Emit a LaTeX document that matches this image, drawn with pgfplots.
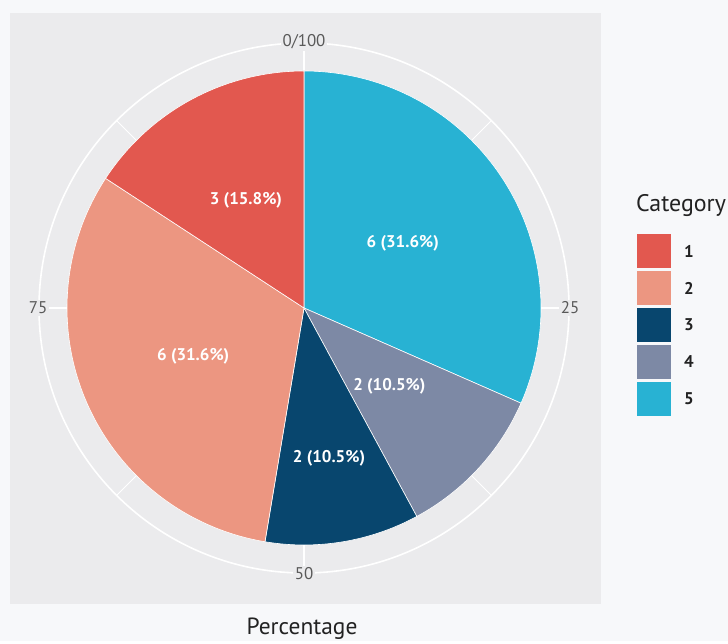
\documentclass[border=0pt]{standalone}
\usepackage{pgfplots}
\usepackage{pgfplotstable}
\pgfplotsset{compat=1.18}
\usepackage{fontspec}
\setmainfont{PT Sans}

\definecolor{pagebg}{HTML}{F7F8FA}
\definecolor{panelbg}{HTML}{EBEBED}
\definecolor{ticktext}{HTML}{595959}
\definecolor{darktext}{HTML}{222222}
\definecolor{col1}{HTML}{E2584F}
\definecolor{col2}{HTML}{EC9681}
\definecolor{col3}{HTML}{08466E}
\definecolor{col4}{HTML}{7D89A5}
\definecolor{col5}{HTML}{28B2D3}

% slices in clockwise order from the top; lr = radius of the slice label
\pgfplotstableread{
cat count lr
5 6 118
4 2 116
3 2 152
2 6 121
1 3 122
}\pietable

\begin{document}
\begin{tikzpicture}
\pgfplotstablegetrowsof{\pietable}
\pgfmathtruncatemacro\nrows{\pgfplotsretval-1}
\def\total{0}
\pgfplotsforeachungrouped \i in {0,...,\nrows}{%
  \pgfplotstablegetelem{\i}{count}\of\pietable
  \pgfmathsetmacro\total{\total+\pgfplotsretval}%
}
\def\cum{0}
\pgfplotsforeachungrouped \i in {0,...,\nrows}{%
  \pgfplotstablegetelem{\i}{count}\of\pietable \let\myv\pgfplotsretval
  \pgfplotstablegetelem{\i}{cat}\of\pietable \let\myc\pgfplotsretval
  \pgfplotstablegetelem{\i}{lr}\of\pietable \let\myr\pgfplotsretval
  \pgfmathsetmacro\sa{90-360*\cum/\total}%
  \pgfmathsetmacro\cum{\cum+\myv}%
  \pgfmathsetmacro\sb{90-360*\cum/\total}%
  \pgfmathsetmacro\sm{(\sa+\sb)/2}%
  \pgfmathsetmacro\spx{304+237*cos(\sa)}%
  \pgfmathsetmacro\spy{333+237*sin(\sa)}%
  \pgfmathsetmacro\slx{304+\myr*cos(\sm)}%
  \pgfmathsetmacro\sly{333+\myr*sin(\sm)}%
  \pgfmathsetmacro\spct{100*\myv/\total}%
  \expandafter\xdef\csname pa\i\endcsname{\sa}%
  \expandafter\xdef\csname pb\i\endcsname{\sb}%
  \expandafter\xdef\csname px\i\endcsname{\spx}%
  \expandafter\xdef\csname py\i\endcsname{\spy}%
  \expandafter\xdef\csname lx\i\endcsname{\slx}%
  \expandafter\xdef\csname ly\i\endcsname{\sly}%
  \expandafter\xdef\csname pp\i\endcsname{\spct}%
  \expandafter\xdef\csname pv\i\endcsname{\myv}%
  \expandafter\xdef\csname pc\i\endcsname{col\myc}%
}
\begin{axis}[
  at={(0,0)}, anchor=origin,
  x=1bp, y=1bp,
  xmin=0, xmax=728, ymin=0, ymax=641,
  hide axis, clip=false,
  ]
  % background and panel
  \fill[pagebg] (axis cs:0,0) rectangle (axis cs:728,641);
  \fill[panelbg] (axis cs:10,37) rectangle (axis cs:601,628);
  % grid
  \draw[white, line width=0.8bp] (axis cs:304,333) -- (axis cs:491.4,520.4);
  \draw[white, line width=0.8bp] (axis cs:304,333) -- (axis cs:491.4,145.6);
  \draw[white, line width=0.8bp] (axis cs:304,333) -- (axis cs:116.6,145.6);
  \draw[white, line width=0.8bp] (axis cs:304,333) -- (axis cs:116.6,520.4);
  \draw[white, line width=1.6bp] (axis cs:304,333) -- (axis cs:304,598);
  \draw[white, line width=1.6bp] (axis cs:304,333) -- (axis cs:569,333);
  \draw[white, line width=1.6bp] (axis cs:304,333) -- (axis cs:304,68);
  \draw[white, line width=1.6bp] (axis cs:304,333) -- (axis cs:39,333);
  \draw[white, line width=1.6bp] (axis cs:304,333) circle[radius=265bp];
  % theta labels
  \begin{scope}[every node/.style={fill=panelbg, inner sep=1.5bp, text=ticktext,
      font=\fontsize{17}{20}\selectfont}]
    \node at (axis cs:304,599) {0/100};
    \node at (axis cs:570,333) {25};
    \node at (axis cs:304,67) {50};
    \node at (axis cs:38,333) {75};
  \end{scope}
  % slices
  \pgfplotsinvokeforeach{0,...,4}{
    \path[fill=\csname pc#1\endcsname, draw=white, line width=0.6bp]
      (axis cs:304,333) -- (axis cs:\csname px#1\endcsname,\csname py#1\endcsname)
      arc[start angle=\csname pa#1\endcsname, end angle=\csname pb#1\endcsname, radius=237bp]
      -- cycle;
  }
  \pgfplotsinvokeforeach{0,...,4}{
    \node[text=white, font=\bfseries\fontsize{17}{20}\selectfont]
      at (axis cs:\csname lx#1\endcsname,\csname ly#1\endcsname)
      {\csname pv#1\endcsname{} (\pgfmathprintnumber[fixed,precision=1,fixed zerofill,assume math mode=true]{\csname pp#1\endcsname}\%)};
  }
  % legend
  \node[anchor=west, text=darktext, font=\fontsize{24}{28}\selectfont, inner sep=0pt]
    at (axis cs:636,435) {Category};
  \fill[col1] (axis cs:637,373) rectangle (axis cs:671,407);
  \fill[col2] (axis cs:637,336) rectangle (axis cs:671,370);
  \fill[col3] (axis cs:637,299) rectangle (axis cs:671,333);
  \fill[col4] (axis cs:637,262) rectangle (axis cs:671,296);
  \fill[col5] (axis cs:637,225) rectangle (axis cs:671,259);
  \begin{scope}[every node/.style={anchor=west, text=darktext, inner sep=0pt,
      font=\bfseries\fontsize{17}{20}\selectfont}]
    \node at (axis cs:684,390) {1};
    \node at (axis cs:684,353) {2};
    \node at (axis cs:684,316) {3};
    \node at (axis cs:684,279) {4};
    \node at (axis cs:684,242) {5};
  \end{scope}
  % axis title
  \node[text=darktext, font=\fontsize{23.5}{27}\selectfont]
    at (axis cs:302,12) {Percentage};
\end{axis}
\end{tikzpicture}
\end{document}
